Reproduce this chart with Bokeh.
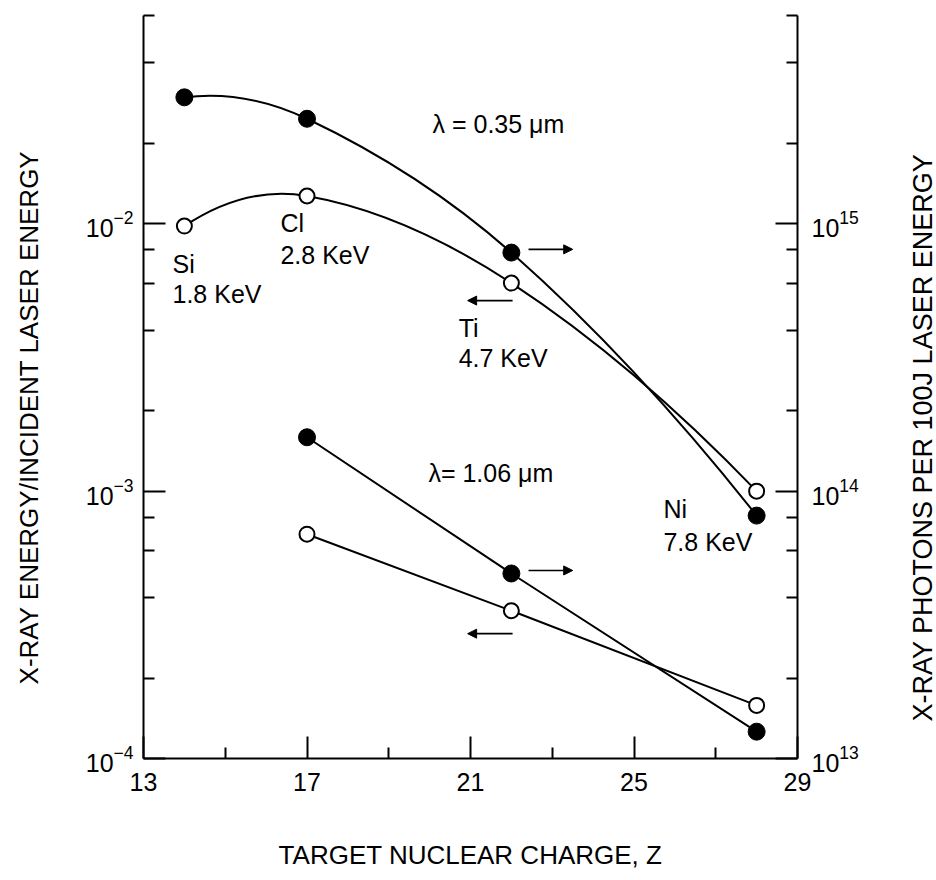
import math
from bokeh.plotting import figure
from bokeh.layouts import row
from bokeh.models import (Range1d, LogAxis, LogScale, FixedTicker, Arrow,
                          NormalHead, LogTickFormatter)
from bokeh.embed import file_html
from bokeh.resources import INLINE
from bokeh.core.properties import value

# ---------------- data ----------------
z_035 = [14, 17, 22, 28]
energy_035 = [9.8e-3, 1.27e-2, 6.0e-3, 1.0e-3]          # left axis (open circles)
photons_035 = [2.97e15, 2.47e15, 7.8e14, 8.1e13]        # right axis (filled)

z_106 = [17, 22, 28]
energy_106 = [6.9e-4, 3.57e-4, 1.58e-4]                 # left axis (open)
photons_106 = [1.59e14, 4.92e13, 1.26e13]               # right axis (filled)

elements = ["Si", "Cl", "Ti", "Ni"]
line_energies = ["1.8 KeV", "2.8 KeV", "4.7 KeV", "7.8 KeV"]

x_major = [13, 17, 21, 25, 29]
x_minor = [15, 19, 23, 27]
left_major = [1e-4, 1e-3, 1e-2]
left_minor = [2e-4, 4e-4, 6e-4, 8e-4, 2e-3, 4e-3, 6e-3, 8e-3, 2e-2, 4e-2, 6e-2]
right_major = [1e13, 1e14, 1e15]
right_minor = [2e13, 4e13, 6e13, 8e13, 2e14, 4e14, 6e14, 8e14, 2e15, 4e15, 6e15]

x_title = "TARGET NUCLEAR CHARGE, Z"
left_title = "X-RAY ENERGY/INCIDENT LASER ENERGY"
right_title = "X-RAY PHOTONS PER 100J LASER ENERGY"

FONT = "Liberation Sans"
FS = "25px"
H = 880
LEFT_W, RIGHT_W = 45, 40
MAIN_W = 936 - LEFT_W - RIGHT_W

p = figure(width=MAIN_W, height=H, x_range=Range1d(13, 29),
           y_range=Range1d(1e-4, 6.01e-2), y_axis_type="log",
           output_backend="svg", toolbar_location=None,
           min_border_left=143 - LEFT_W, min_border_right=139 - RIGHT_W,
           min_border_top=15, min_border_bottom=122)
p.extra_y_ranges = {"right": Range1d(1e13, 6.01e15)}
p.extra_y_scales = {"right": LogScale()}
p.outline_line_color = None
p.grid.visible = False
p.background_fill_color = "white"
p.border_fill_color = "white"

right_axis = LogAxis(y_range_name="right")
p.add_layout(right_axis, "right")

p.xaxis.ticker = FixedTicker(ticks=x_major, minor_ticks=x_minor)
p.yaxis[0].ticker = FixedTicker(ticks=left_major, minor_ticks=left_minor)
right_axis.ticker = FixedTicker(ticks=right_major, minor_ticks=right_minor)
p.yaxis[0].formatter = LogTickFormatter()
right_axis.formatter = LogTickFormatter()

for ax in p.axis:
    ax.axis_line_width = 2
    ax.axis_line_color = "black"
    ax.major_tick_in = 22
    ax.major_tick_out = 0
    ax.minor_tick_in = 11
    ax.minor_tick_out = 0
    ax.major_tick_line_width = 2
    ax.minor_tick_line_width = 2
    ax.major_tick_line_color = "black"
    ax.minor_tick_line_color = "black"
    ax.major_label_text_font = FONT
    ax.major_label_text_font_size = FS
    ax.major_label_text_color = "black"
    ax.axis_label_text_font = FONT
    ax.axis_label_text_font_size = "26px"
    ax.axis_label_text_font_style = "normal"
    ax.axis_label_text_color = "black"

p.xaxis.axis_label = x_title
p.xaxis.major_label_standoff = 14
p.xaxis.axis_label_standoff = 46
p.yaxis[0].major_label_standoff = 10
right_axis.major_label_standoff = 14


# ---------------- smooth curves (Hermite -> cubic Bezier in log space) -------
def bezier_segments(xs, ys):
    ly = [math.log10(v) for v in ys]
    n = len(xs)
    sl = [(ly[i + 1] - ly[i]) / (xs[i + 1] - xs[i]) for i in range(n - 1)]
    m = [0.0] * n
    for i in range(1, n - 1):
        m[i] = (ly[i + 1] - ly[i - 1]) / (xs[i + 1] - xs[i - 1])
    m[0] = 2 * sl[0] - m[1]
    m[-1] = 2 * sl[-1] - m[-2]
    seg = dict(x0=[], y0=[], x1=[], y1=[], cx0=[], cy0=[], cx1=[], cy1=[])
    for i in range(n - 1):
        h = xs[i + 1] - xs[i]
        seg["x0"].append(xs[i]); seg["y0"].append(ys[i])
        seg["x1"].append(xs[i + 1]); seg["y1"].append(ys[i + 1])
        seg["cx0"].append(xs[i] + h / 3)
        seg["cy0"].append(10 ** (ly[i] + m[i] * h / 3))
        seg["cx1"].append(xs[i + 1] - h / 3)
        seg["cy1"].append(10 ** (ly[i + 1] - m[i + 1] * h / 3))
    return seg


s_open = bezier_segments(z_035, energy_035)
p.bezier(line_color="black", line_width=2, **s_open)
s_fill = bezier_segments(z_035, photons_035)
p.bezier(line_color="black", line_width=2, y_range_name="right", **s_fill)

p.line(z_106, energy_106, line_color="black", line_width=2)
p.line(z_106, photons_106, line_color="black", line_width=2, y_range_name="right")

# markers
p.scatter(z_035, energy_035, marker="circle", size=15, fill_color="white",
          line_color="black", line_width=2)
p.scatter(z_106, energy_106, marker="circle", size=15, fill_color="white",
          line_color="black", line_width=2)
p.scatter(z_035, photons_035, marker="circle", size=17, fill_color="black",
          line_color="black", y_range_name="right")
p.scatter(z_106, photons_106, marker="circle", size=17, fill_color="black",
          line_color="black", y_range_name="right")

# ---------------- annotations ----------------
lab_x = [13.71, 16.35, 20.71, 25.72]
lab_y1 = [7.1e-3, 1.01e-2, 4.09e-3, 8.6e-4]
lab_y2 = [5.48e-3, 7.67e-3, 3.16e-3, 6.43e-4]
p.text(x=lab_x, y=lab_y1, text=elements, text_font=value(FONT),
       text_font_size=FS, text_baseline="middle", text_align="left",
       text_color="black")
p.text(x=lab_x, y=lab_y2, text=line_energies, text_font=value(FONT),
       text_font_size=FS, text_baseline="middle", text_align="left",
       text_color="black")
p.text(x=[20.07, 19.97], y=[2.37e-2, 1.17e-3],
       text=["λ = 0.35 μm", "λ= 1.06 μm"], text_font=value(FONT),
       text_font_size=FS, text_baseline="middle", text_align="left",
       text_color="black")

arrows = [  # (x_start, x_end, y) in left-axis units
    (22.42, 23.5, 8.02e-3),
    (22.03, 20.93, 5.16e-3),
    (22.42, 23.5, 5.05e-4),
    (22.03, 20.93, 2.93e-4),
]
for xs_, xe_, ya in arrows:
    p.add_layout(Arrow(end=NormalHead(size=9, fill_color="black",
                                      line_color="black", line_width=1),
                       x_start=xs_, y_start=ya, x_end=xe_, y_end=ya,
                       line_width=1.6, line_color="black"))


# ---------------- side strips holding the vertical axis titles ----------------
def title_strip(width, text, cx, cy, size):
    s = figure(width=width, height=H, x_range=Range1d(0, width),
               y_range=Range1d(0, H), x_axis_type=None, y_axis_type=None,
               output_backend="svg", toolbar_location=None,
               min_border=0, min_border_left=0, min_border_right=0,
               min_border_top=0, min_border_bottom=0)
    s.outline_line_color = None
    s.grid.visible = False
    s.background_fill_color = "white"
    s.border_fill_color = "white"
    s.text(x=[cx], y=[H - cy], text=[text], angle=math.pi / 2,
           text_font=value(FONT), text_font_size=size, text_align="center",
           text_baseline="middle", text_color="black")
    return s


left_strip = title_strip(LEFT_W, left_title, 28, 476, "26px")
right_strip = title_strip(RIGHT_W, right_title, 26, 500, "27px")

layout = row(left_strip, p, right_strip, spacing=0)
open("out.html", "w").write(file_html(layout, INLINE))
